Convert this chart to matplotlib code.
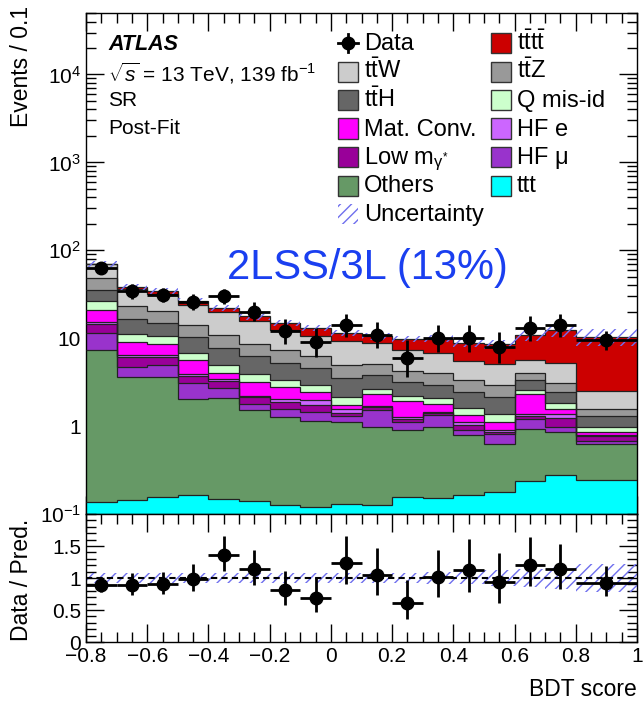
import numpy as np
import matplotlib
matplotlib.use('Agg')
import matplotlib.pyplot as plt
from matplotlib.patches import Rectangle
from matplotlib.ticker import MultipleLocator, FixedLocator, FuncFormatter, LogLocator, NullFormatter

plt.rcParams['font.family'] = ['Liberation Sans', 'DejaVu Sans']
plt.rcParams['mathtext.fontset'] = 'custom'
plt.rcParams['mathtext.rm'] = 'Liberation Sans'
plt.rcParams['mathtext.it'] = 'Liberation Sans:italic'
plt.rcParams['mathtext.bf'] = 'Liberation Sans:bold'
plt.rcParams['mathtext.sf'] = 'Liberation Sans'
plt.rcParams['hatch.linewidth'] = 1.0

# ---------------- data ----------------
bin_edges = [-0.8, -0.7, -0.6, -0.5, -0.4, -0.3, -0.2, -0.1, 0.0,
             0.1, 0.2, 0.3, 0.4, 0.5, 0.6, 0.7, 0.8, 1.0]

ttt     = [0.135, 0.143, 0.157, 0.162, 0.147, 0.140, 0.124, 0.119, 0.129,
           0.127, 0.154, 0.150, 0.163, 0.178, 0.236, 0.279, 0.244]
others  = [7.26, 3.46, 3.50, 1.88, 1.96, 1.39, 1.13, 1.02, 0.97,
           0.85, 0.75, 0.83, 0.63, 0.45, 0.70, 0.57, 0.38]
hf_mu   = [4.0, 1.04, 1.32, 1.04, 0.59, 0.26, 0.30, 0.32, 0.20,
           0.55, 0.22, 0.36, 0.11, 0.18, 0.28, 0.12, 0.06]
low_m   = [3.1, 1.40, 1.21, 0.65, 0.60, 0.34, 0.32, 0.28, 0.12,
           0.11, 0.08, 0.06, 0.13, 0.05, 0.08, 0.28, 0.08]
hf_e    = [0.9, 0.37, 0.22, 0.20, 0.15, 0.09, 0.15, 0.22, 0.13,
           0.07, 0.07, 0.04, 0.07, 0.05, 0.08, 0.12, 0.02]
mat_conv= [5.7, 2.55, 2.24, 1.74, 0.62, 0.99, 0.75, 0.51, 0.19,
           0.59, 0.63, 0.33, 0.24, 0.21, 0.92, 0.18, 0.08]
q_misid = [5.2, 2.24, 1.85, 1.09, 0.91, 0.72, 0.59, 0.47, 0.39,
           0.35, 0.27, 0.30, 0.25, 0.24, 0.28, 0.27, 0.11]
tth     = [9.4, 5.3, 4.4, 3.44, 2.73, 2.26, 1.84, 1.62, 1.38,
           1.18, 1.04, 0.87, 0.88, 0.81, 0.78, 0.65, 0.33]
ttz     = [12.8, 6.6, 5.3, 4.1, 3.25, 2.46, 2.06, 1.63, 1.47,
           1.24, 1.04, 1.06, 0.89, 0.77, 0.64, 0.66, 0.25]
ttw     = [20.5, 13.2, 11.2, 9.8, 8.7, 6.9, 5.2, 4.3, 4.2,
           3.7, 3.1, 2.8, 2.1, 2.1, 1.7, 2.1, 0.97]
tttt    = [1.5, 1.7, 2.8, 2.2, 2.4, 2.1, 2.4, 2.5, 2.2,
           1.7, 2.5, 3.1, 3.4, 3.5, 5.1, 7.1, 7.8]

data        = [63, 34, 31, 26, 30, 20, 12, 9, 14, 11, 6, 10, 10, 8, 13, 14, 9.5]
data_err_lo = [7.9, 5.8, 5.5, 5.1, 5.4, 4.4, 3.4, 2.9, 3.7, 3.3, 2.4, 3.1, 3.1, 2.8, 3.6, 3.7, 2.15]
data_err_hi = [8.9, 6.9, 6.6, 6.1, 6.5, 5.5, 4.5, 4.1, 4.8, 4.4, 3.6, 4.3, 4.3, 3.9, 4.7, 4.8, 2.7]
rel_unc     = [0.08, 0.08, 0.08, 0.08, 0.08, 0.08, 0.08, 0.08, 0.08,
               0.08, 0.08, 0.09, 0.10, 0.12, 0.14, 0.17, 0.22]

components = [  # bottom -> top
    ('ttt',      ttt,      '#00ffff', 'ttt'),
    ('others',   others,   '#669966', 'Others'),
    ('hf_mu',    hf_mu,    '#9933cc', 'HF \u03bc'),
    ('low_m',    low_m,    '#990099', 'Low m$_{\\mathrm{\u03b3}^{*}}$'),
    ('hf_e',     hf_e,     '#cc66ff', 'HF e'),
    ('mat_conv', mat_conv, '#ff00ff', 'Mat. Conv.'),
    ('q_misid',  q_misid,  '#ccffcc', 'Q mis-id'),
    ('tth',      tth,      '#666666', r't$\bar{\rm t}$H'),
    ('ttz',      ttz,      '#999999', r't$\bar{\rm t}$Z'),
    ('ttw',      ttw,      '#cccccc', r't$\bar{\rm t}$W'),
    ('tttt',     tttt,     '#cc0000', r't$\bar{\rm t}$t$\bar{\rm t}$'),
]
colors = {k: c for k, _, c, _ in components}
labels = {k: l for k, _, _, l in components}

HATCH = '///'
HCOL = '#6f6fee'

# ---------------- figure ----------------
W, H = 643, 702
fig = plt.figure(figsize=(W / 100, H / 100), dpi=100)
x0, x1 = 86, 637
ymt, ymb, yrb = 13, 514, 642
ax = fig.add_axes([x0 / W, 1 - ymb / H, (x1 - x0) / W, (ymb - ymt) / H])
rax = fig.add_axes([x0 / W, 1 - yrb / H, (x1 - x0) / W, (yrb - ymb) / H], sharex=ax)

edges = np.array(bin_edges)
centers = 0.5 * (edges[1:] + edges[:-1])
halfw = 0.5 * (edges[1:] - edges[:-1])

bottom = np.full(len(centers), 1e-3)
for key, vals, col, lab in components:
    top = bottom + np.array(vals)
    ax.stairs(top, edges, baseline=bottom, fill=True, facecolor=col, edgecolor='none', zorder=2)
    ax.stairs(top, edges, baseline=None, color='#222222', lw=0.9, zorder=3)
    bottom = top
total = bottom

unc = np.array(rel_unc)
ax.stairs(total * (1 + unc), edges, baseline=total * (1 - unc), fill=True,
          facecolor='none', edgecolor=HCOL, hatch=HATCH, lw=0, zorder=4)

d = np.array(data)
ax.errorbar(centers, d, xerr=halfw, yerr=[data_err_lo, data_err_hi], fmt='o',
            color='black', ms=9, elinewidth=2, capsize=0, zorder=5)

ax.set_xlim(-0.8, 1.0)
ax.set_yscale('log')
ax.set_ylim(0.1, 5e4)


def logfmt(v, pos):
    e = int(round(np.log10(v)))
    if e == 0:
        return '1'
    if e == 1:
        return '10'
    return r'$10^{%d}$' % e


ax.yaxis.set_major_locator(LogLocator(base=10, numticks=20))
ax.yaxis.set_minor_locator(LogLocator(base=10, subs=np.arange(2, 10), numticks=20))
ax.yaxis.set_major_formatter(FuncFormatter(logfmt))
ax.yaxis.set_minor_formatter(NullFormatter())
ax.xaxis.set_major_locator(MultipleLocator(0.2))
ax.xaxis.set_minor_locator(MultipleLocator(0.05))
for a in (ax, rax):
    a.tick_params(which='both', direction='in', top=True, right=True, width=1)
    a.tick_params(which='major', length=13, labelsize=15)
    a.tick_params(which='minor', length=7)
    for s in a.spines.values():
        s.set_linewidth(1.0)
ax.tick_params(labelbottom=False)

# ---------------- ratio ----------------
ratio = d / total
rax.stairs(1 + unc, edges, baseline=1 - unc, fill=True, facecolor='none',
           edgecolor=HCOL, hatch=HATCH, lw=0, zorder=2)
rax.axhline(1.0, color='black', ls=(0, (3, 2)), lw=1.5, zorder=3)
rax.errorbar(centers, ratio, xerr=halfw,
             yerr=[np.array(data_err_lo) / total, np.array(data_err_hi) / total],
             fmt='o', color='black', ms=9, elinewidth=2, capsize=0, zorder=5)
rax.set_ylim(0, 2.0)
rax.yaxis.set_major_locator(FixedLocator([0, 0.5, 1, 1.5]))
rax.yaxis.set_minor_locator(MultipleLocator(0.1))
rax.yaxis.set_major_formatter(FuncFormatter(lambda v, p: '%g' % v))
rax.xaxis.set_major_formatter(FuncFormatter(lambda v, p: ('%g' % round(v, 2)).replace('-', '\u2212')))
rax.set_xlim(-0.8, 1.0)

# ---------------- texts ----------------
fig.text(22 / W, 1 - 6 / H, 'Events / 0.1', rotation=90, ha='center', va='top', fontsize=16.5)
fig.text(22 / W, 1 - 580 / H, 'Data / Pred.', rotation=90, ha='center', va='center', fontsize=16.5)
fig.text(x1 / W, 1 - 690 / H, 'BDT score', ha='right', va='center', fontsize=16.5)


def axf(px, py):
    return ((px - x0) / (x1 - x0), (ymb - py) / (ymb - ymt))


T = ax.transAxes
ax.text(*axf(108, 45), 'ATLAS', fontsize=15.5, fontweight='bold', style='italic', va='center', transform=T)
ax.text(*axf(108, 73), r'$\sqrt{s}$ = 13 TeV, 139 fb$^{-1}$', fontsize=15, va='center', transform=T)
ax.text(*axf(108, 101), 'SR', fontsize=15, va='center', transform=T)
ax.text(*axf(108, 129), 'Post-Fit', fontsize=15, va='center', transform=T)
ax.text(*axf(367, 268), '2LSS/3L (13%)', fontsize=30, color='#1a3ff0', ha='center', va='center', transform=T)

# ---------------- legend (manual) ----------------
rows = [43, 71.5, 100, 128.5, 157, 185.5, 214]
col1 = ['DATA', 'ttw', 'tth', 'mat_conv', 'low_m', 'others', 'UNC']
col2 = ['tttt', 'ttz', 'q_misid', 'hf_e', 'hf_mu', 'ttt']
bw, bh = 20, 20


def legend_entry(key, bx, ry):
    tx, ty = axf(bx + 26, ry + 7)
    if key == 'DATA':
        xa, ya = axf(bx, ry)
        xb, _ = axf(bx + bw, ry)
        xc, _ = axf(bx + bw / 2, ry)
        _, yt = axf(0, ry - 9)
        _, yb = axf(0, ry + 9)
        ax.plot([xa, xb], [ya, ya], color='black', lw=2, transform=T, zorder=6)
        ax.plot([xc, xc], [yb, yt], color='black', lw=2, transform=T, zorder=6)
        ax.plot([xc], [ya], 'o', color='black', ms=9, transform=T, zorder=6)
        lab = 'Data'
    elif key == 'UNC':
        xa, ya = axf(bx, ry + bh / 2)
        ax.add_patch(Rectangle((xa, ya), bw / (x1 - x0), bh / (ymb - ymt), transform=T,
                               facecolor='none', edgecolor=HCOL, hatch=HATCH, lw=0, zorder=6))
        lab = 'Uncertainty'
    else:
        xa, ya = axf(bx, ry + bh / 2)
        ax.add_patch(Rectangle((xa, ya), bw / (x1 - x0), bh / (ymb - ymt), transform=T,
                               facecolor=colors[key], edgecolor='#333333', lw=1, zorder=6))
        lab = labels[key]
    ax.text(tx, ty, lab, fontsize=17, va='baseline', ha='left', zorder=6, transform=T)


for k, ry in zip(col1, rows):
    legend_entry(k, 338, ry)
for k, ry in zip(col2, rows):
    legend_entry(k, 491, ry)

fig.savefig('out.png', dpi=100)
